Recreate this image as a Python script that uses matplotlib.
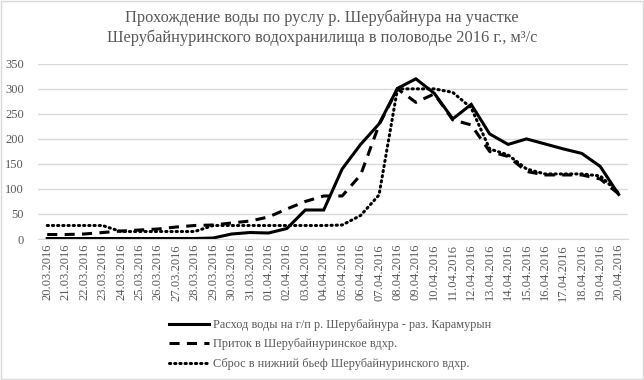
import matplotlib
matplotlib.use("Agg")
import matplotlib.pyplot as plt
from matplotlib.patches import Rectangle

# даты 20.03.2016 - 20.04.2016
dates = ["20.03.2016", "21.03.2016", "22.03.2016", "23.03.2016", "24.03.2016",
         "25.03.2016", "26.03.2016", "27.03.2016", "28.03.2016", "29.03.2016",
         "30.03.2016", "31.03.2016", "01.04.2016", "02.04.2016", "03.04.2016",
         "04.04.2016", "05.04.2016", "06.04.2016", "07.04.2016", "08.04.2016",
         "09.04.2016", "10.04.2016", "11.04.2016", "12.04.2016", "13.04.2016",
         "14.04.2016", "15.04.2016", "16.04.2016", "17.04.2016", "18.04.2016",
         "19.04.2016", "20.04.2016"]

rashod = [1, 1, 1, 1, 1, 1, 1, 1, 1, 2,
          10, 13, 12, 21, 58, 58, 140, 189, 230, 301,
          320, 291, 240, 269, 210, 189, 200, 190, 180, 171,
          145, 89]

pritok = [9, 9, 10, 13, 16, 18, 20, 24, 27, 28,
          32, 36, 44, 60, 75, 86, 86, 128, 228, 300,
          273, 290, 238, 228, 175, 165, 135, 128, 128, 128,
          120, 90]

sbros = [27, 27, 27, 27, 15, 15, 15, 15, 15, 27,
         27, 27, 27, 27, 27, 27, 28, 47, 88, 300,
         300, 300, 293, 262, 180, 168, 140, 130, 130, 130,
         126, 92]

labels = ["Расход воды на г/п р. Шерубайнура - раз. Карамурын",
          "Приток в Шерубайнуринское вдхр.",
          "Сброс в нижний бьеф Шерубайнуринского вдхр."]

grey = "#595959"
plt.rcParams["font.family"] = ["Liberation Serif", "DejaVu Serif"]

fig = plt.figure(figsize=(6.44, 3.8), dpi=100)
ax = fig.add_axes([0.059, 0.371, 0.916, 0.461])

x = list(range(len(dates)))
ax.plot(x, rashod, color="black", lw=2.2, solid_joinstyle="miter", label=labels[0])
ax.plot(x, pritok, color="black", lw=2.2, ls=(0, (3.3, 2.4)), label=labels[1])
ax.plot(x, sbros, color="black", lw=2.2, ls=(0, (0.4, 1.3)),
        dash_capstyle="round", label=labels[2])

ax.set_xlim(-0.5, len(dates) - 0.5)
ax.set_ylim(0, 350)
ax.set_yticks(range(0, 351, 50))
ax.set_xticks(x)
ax.set_xticklabels(dates, rotation=90)
ax.tick_params(length=0, colors=grey, labelsize=9)
ax.tick_params(axis="y", pad=10)
ax.grid(axis="y", color="#d9d9d9", lw=1)
ax.set_axisbelow(True)
for s in ["top", "right", "left"]:
    ax.spines[s].set_visible(False)
ax.spines["bottom"].set_color("#d9d9d9")

fig.suptitle("Прохождение воды по руслу р. Шерубайнура на участке\n"
             "Шерубайнуринского водохранилища в половодье 2016 г., м³/с",
             x=0.5, y=0.975, fontsize=11.8, color=grey, linespacing=1.25)

fig.legend(loc="upper left", bbox_to_anchor=(0.245, 0.19), frameon=False,
           fontsize=8.8, handlelength=3.3, handletextpad=0.3, labelspacing=0.62,
           labelcolor=grey)

fig.patches.append(Rectangle((0.002, 0.002), 0.996, 0.996, transform=fig.transFigure,
                             fill=False, edgecolor="#d9d9d9", lw=1))

fig.savefig("out.png", dpi=100)
